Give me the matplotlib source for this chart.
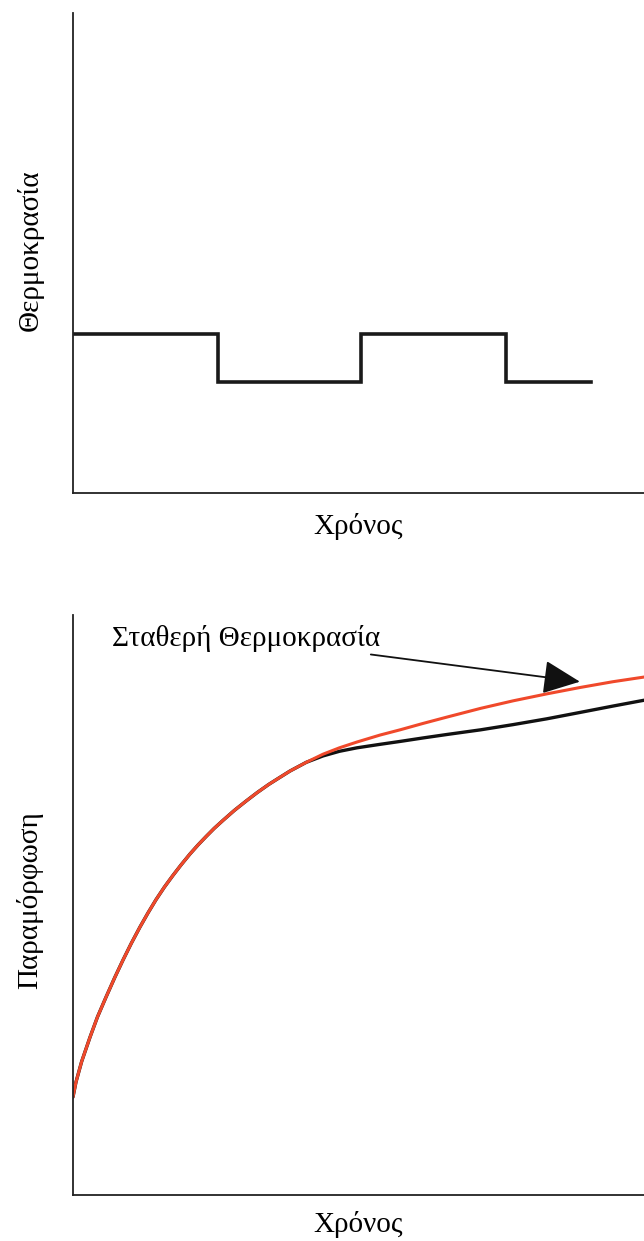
import matplotlib
matplotlib.use("Agg")
import matplotlib.pyplot as plt

plt.rcParams['font.family'] = ['Liberation Serif', 'DejaVu Serif']

# ---- Top panel: temperature step profile ----
step_times = [0.0, 1.007, 2.0, 3.007, 3.60]
step_levels = [3.31, 2.31, 3.31, 2.31, 2.31]

# ---- Bottom panel: strain curves ----
shared_t = [0.0, 0.021, 0.06, 0.118, 0.17, 0.229, 0.29, 0.347, 0.405, 0.465, 0.52,
            0.576, 0.635, 0.694, 0.75, 0.8125, 0.87, 0.924, 0.98, 1.042, 1.12,
            1.201, 1.28, 1.36, 1.43, 1.507, 1.62]
shared_y = [1.69, 1.95, 2.30, 2.72, 3.07, 3.41, 3.75, 4.05, 4.34, 4.62, 4.86,
            5.09, 5.31, 5.51, 5.69, 5.88, 6.04, 6.18, 6.32, 6.46, 6.63,
            6.79, 6.94, 7.08, 7.19, 7.31, 7.46]

red_t = shared_t + [1.736, 1.85, 1.972, 2.132, 2.271, 2.43, 2.597, 2.83, 3.056, 3.29,
                    3.521, 3.75, 3.965, 4.1]
red_y = shared_y + [7.60, 7.71, 7.81, 7.93, 8.02, 8.13, 8.24, 8.39, 8.52, 8.64,
                    8.75, 8.85, 8.93, 8.98]

black_t = shared_t + [1.736, 1.85, 1.972, 2.132, 2.271, 2.43, 2.597, 2.83, 3.056, 3.29,
                      3.521, 3.75, 3.965, 4.1]
black_y = shared_y + [7.57, 7.65, 7.71, 7.77, 7.82, 7.88, 7.94, 8.02, 8.11, 8.21,
                      8.32, 8.43, 8.53, 8.60]

annot_text = "Σταθερή Θερμοκρασία"
xlabel = "Χρόνος"
ylabel_top = "Θερμοκρασία"
ylabel_bottom = "Παραμόρφωση"

W, H = 644, 1241
fig = plt.figure(figsize=(W / 100, H / 100), dpi=100)

def px_axes(left, top, right, bottom):
    return fig.add_axes([left / W, (H - bottom) / H, (right - left) / W, (bottom - top) / H])

FS = 21
RED = '#f0492b'

ax1 = px_axes(73, 13, 649, 493)
ax1.plot(step_times, step_levels, drawstyle='steps-post', color='#1a1a1a', lw=2.6,
         solid_joinstyle='miter')
ax1.set_xlim(0, 4)
ax1.set_ylim(0, 10)
ax1.set_xticks([])
ax1.set_yticks([])
for s in ['top', 'right']:
    ax1.spines[s].set_visible(False)
for s in ['left', 'bottom']:
    ax1.spines[s].set_linewidth(1.3)
    ax1.spines[s].set_color('#222222')
fig.text(358 / W, 1 - 527 / H, xlabel, fontsize=FS, ha='center', va='center')
fig.text(30 / W, 1 - 250 / H, ylabel_top, fontsize=FS, ha='center', va='center', rotation=90)

ax2 = px_axes(73, 615, 649, 1195)
ax2.plot(black_t, black_y, color='#111111', lw=2.4, solid_capstyle='round',
         solid_joinstyle='round')
ax2.plot(red_t, red_y, color=RED, lw=2.2, solid_capstyle='round', solid_joinstyle='round')
ax2.set_xlim(0, 4)
ax2.set_ylim(0, 10)
ax2.set_xticks([])
ax2.set_yticks([])
for s in ['top', 'right']:
    ax2.spines[s].set_visible(False)
for s in ['left', 'bottom']:
    ax2.spines[s].set_linewidth(1.3)
    ax2.spines[s].set_color('#222222')
ax2.annotate(annot_text, xy=(3.52, 8.85), xytext=(1.2, 9.60),
             fontsize=FS, ha='center', va='center',
             arrowprops=dict(arrowstyle='-|>,head_length=1.1,head_width=0.5',
                             color='#111111', lw=1.3, shrinkA=0, shrinkB=0))
fig.text(358 / W, 1 - 1224 / H, xlabel, fontsize=FS, ha='center', va='center')
fig.text(30 / W, 1 - 900 / H, ylabel_bottom, fontsize=FS, ha='center', va='center', rotation=90)

fig.savefig('out.png', dpi=100)
